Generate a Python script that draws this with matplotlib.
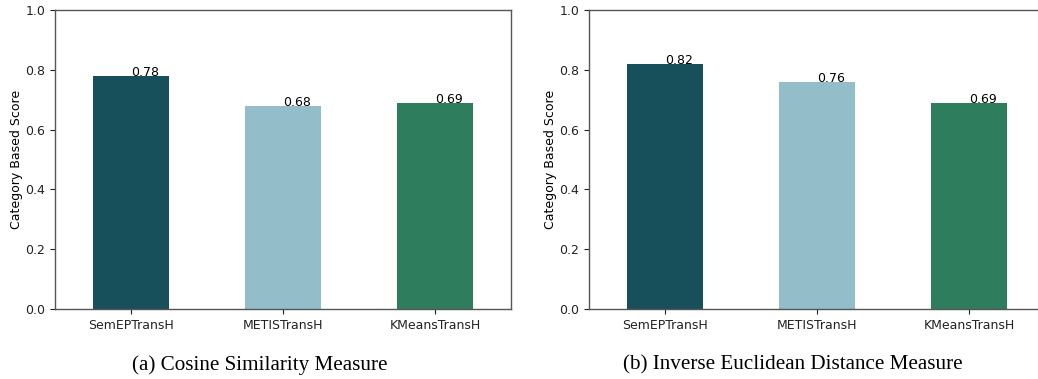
import matplotlib
matplotlib.use("Agg")
import matplotlib.pyplot as plt

methods = ["SemEPTransH", "METISTransH", "KMeansTransH"]
cosine_scores = [0.78, 0.68, 0.69]
euclid_scores = [0.82, 0.76, 0.69]
bar_colors = ["#174f5a", "#92bdc9", "#2e7e5e"]
captions = ["(a) Cosine Similarity Measure", "(b) Inverse Euclidean Distance Measure"]

W, H = 1038, 379
fig = plt.figure(figsize=(W / 100, H / 100), dpi=100)

panels = [
    (55, cosine_scores, captions[0], 260),
    (589, euclid_scores, captions[1], 793),
]

for k, (left_px, scores, caption, cap_x) in enumerate(panels):
    ax = fig.add_axes([left_px / W, 70 / H, 456 / W, 299 / H])
    x = range(len(methods))
    ax.bar(x, scores, width=0.5, color=bar_colors)
    for i, v in enumerate(scores):
        ax.text(i, v, f"{v:.2f}", ha="left", va="baseline", fontsize=9)
    ax.set_xlim(-0.5, 2.5)
    ax.set_ylim(0, 1.0)
    ax.set_yticks([0.0, 0.2, 0.4, 0.6, 0.8, 1.0])
    ax.set_xticks(list(x))
    ax.set_xticklabels(methods)
    ax.tick_params(labelsize=9, length=3.5, width=0.8, colors="#222222")
    ax.set_ylabel("Category Based Score", fontsize=9, labelpad=1.8)
    for s in ax.spines.values():
        s.set_color("#555555")
        s.set_linewidth(1.0)
    if k == 1:
        ax.spines["right"].set_visible(False)
    fig.text(cap_x / W, 1 - 365 / H, caption, ha="center", va="center",
             fontsize=15.2, family="Liberation Serif")

fig.savefig("out.png", dpi=100)
